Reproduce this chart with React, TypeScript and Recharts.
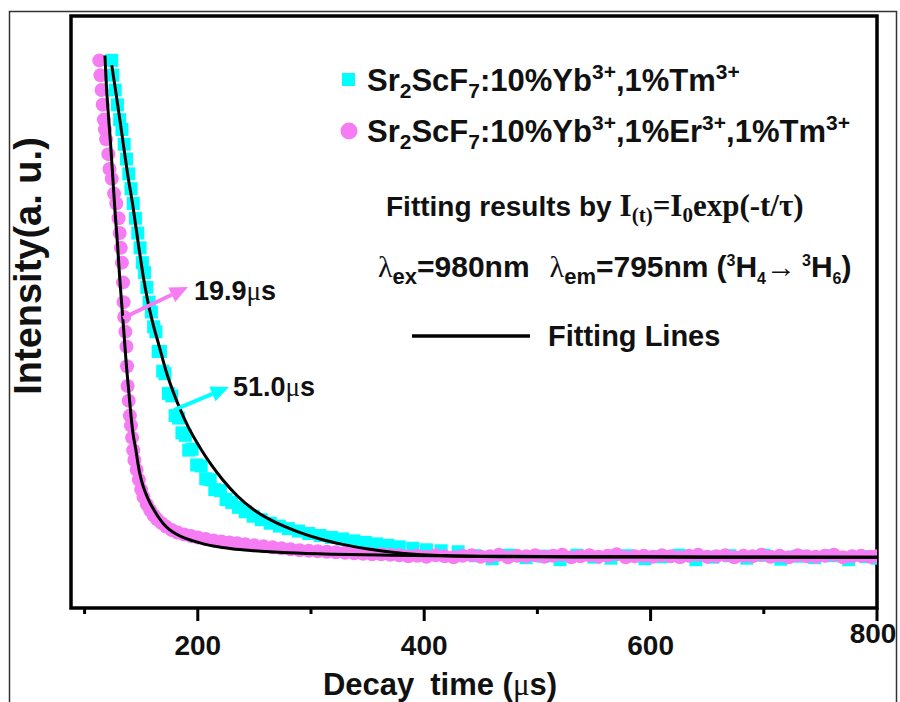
import { ComposedChart, Scatter, XAxis, YAxis, ReferenceArea } from "recharts";

// Sr2ScF7:10%Yb,1%Er,1%Tm (pink circles)
const erTime = [
  113, 114, 115, 116, 117, 118, 119, 121, 122, 124, 126, 128, 130, 131, 132, 133, 134, 134.5, 135, 136,
  137, 137.5, 138, 139, 140, 141, 142, 143, 144, 146, 148, 150, 152, 155, 158, 161, 164, 168, 172, 177,
  182, 188, 194, 200, 207, 214, 221, 228, 235, 242, 250,
  258, 266, 274, 282, 290, 298, 306, 314, 322, 330, 338, 346, 354, 362, 370,
  378, 386, 394, 402, 410, 418, 426, 434, 442, 450, 458, 466, 474, 482, 490, 498, 506, 514, 522, 530,
  538, 546, 554, 562, 570, 578, 586, 594, 602, 610, 618, 626, 634, 642, 650, 658, 666, 674, 682, 690,
  698, 706, 714, 722, 730, 738, 746, 754, 762, 770, 778, 786, 794, 800,
];
const erIntensity = [
  1.01, 0.98, 0.95, 0.92, 0.89, 0.87, 0.85, 0.82, 0.79, 0.77, 0.74, 0.72, 0.69, 0.66, 0.63, 0.6, 0.56, 0.52, 0.49, 0.46,
  0.43, 0.39, 0.35, 0.32, 0.29, 0.27, 0.245, 0.22, 0.2, 0.18, 0.16, 0.14, 0.125, 0.11, 0.098, 0.088, 0.08, 0.072, 0.065, 0.058,
  0.053, 0.049, 0.046, 0.043, 0.04, 0.037, 0.035, 0.033, 0.031, 0.029, 0.027,
  0.025, 0.023, 0.021, 0.019, 0.017, 0.016, 0.015, 0.014, 0.013, 0.012, 0.011, 0.01, 0.009, 0.009, 0.008,
  0.007, 0.005, 0.006, 0.004, 0.007, 0.005, 0.003, 0.006, 0.007, 0.004, 0.005, 0.008, 0.003, 0.006, 0.005, 0.007, 0.004, 0.006, 0.008, 0.003,
  0.005, 0.007, 0.004, 0.006, 0.009, 0.003, 0.005, 0.006, 0.004, 0.007, 0.005, 0.003, 0.006, 0.008, 0.004, 0.005, 0.007, 0.003, 0.006, 0.005,
  0.008, 0.004, 0.006, 0.003, 0.007, 0.005, 0.004, 0.006, 0.008, 0.003, 0.005, 0.006, 0.004, 0.005,
];

// Sr2ScF7:10%Yb,1%Tm (cyan squares)
const tmTime = [
  124, 125, 127, 129, 131, 133, 135, 137, 139, 141, 143, 145, 147, 149, 151, 153, 155, 157, 159, 161,
  163, 165, 167, 169, 171, 174, 177, 180, 183, 186, 189, 192, 195, 199, 203, 207, 211, 215, 220, 225,
  230, 236, 242, 249, 256, 264, 272, 280, 289, 298, 308, 318, 328, 338, 348, 358, 368, 378, 390, 402,
  415, 430,
  445, 460, 475, 490, 505, 520, 535, 550, 565, 580, 595, 610, 625, 640, 655, 670, 685, 700, 715, 730,
  745, 760, 775, 790, 800,
];
const tmIntensity = [
  1.01, 0.98, 0.95, 0.92, 0.89, 0.87, 0.84, 0.81, 0.78, 0.75, 0.72, 0.69, 0.66, 0.63, 0.6, 0.58, 0.55, 0.52, 0.5, 0.47,
  0.46, 0.42, 0.42, 0.38, 0.375, 0.335, 0.33, 0.29, 0.285, 0.255, 0.25, 0.22, 0.222, 0.19, 0.188, 0.162, 0.16, 0.14, 0.138, 0.12,
  0.114, 0.104, 0.095, 0.086, 0.079, 0.072, 0.066, 0.061, 0.056, 0.051, 0.047, 0.043, 0.04, 0.036, 0.033, 0.03, 0.027, 0.024, 0.021, 0.018,
  0.016, 0.014,
  0.006, 0.0, 0.007, 0.002, 0.005, -0.002, 0.007, 0.003, 0.001, 0.006, 0.0, 0.004, 0.007, -0.002, 0.003, 0.006, 0.001, 0.007, -0.001, 0.005,
  0.002, 0.006, -0.002, 0.004, 0.001,
];

// fitting lines
const erFitTime = [
  118, 119, 121, 123, 125, 127, 129, 131, 133, 135, 137, 139, 141, 143, 145, 147, 149, 152, 155, 158,
  161, 165, 170, 175, 181, 188, 196, 205, 215, 230, 250, 280, 320, 370, 450, 550, 650, 800,
];
const erFitIntensity = [
  1.02, 0.97, 0.9, 0.84, 0.77, 0.7, 0.64, 0.57, 0.51, 0.45, 0.39, 0.34, 0.29, 0.25, 0.225, 0.195, 0.17, 0.145, 0.127, 0.112,
  0.1, 0.085, 0.07, 0.059, 0.05, 0.042, 0.036, 0.03, 0.025, 0.02, 0.016, 0.012, 0.009, 0.007, 0.005, 0.004, 0.0035, 0.003,
];
const tmFitTime = [
  124, 128, 133, 138, 143, 148, 152, 156, 160, 166, 172, 178, 184, 192, 202, 212, 222, 235, 252, 270,
  288, 308, 328, 352, 380, 420, 480, 550, 650, 800,
];
const tmFitIntensity = [
  1.0, 0.94, 0.86, 0.78, 0.71, 0.63, 0.57, 0.52, 0.48, 0.43, 0.38, 0.34, 0.305, 0.265, 0.225, 0.19, 0.16, 0.127, 0.095, 0.072,
  0.055, 0.04, 0.029, 0.019, 0.011, 0.006, 0.004, 0.0035, 0.003, 0.003,
];

const xTicks = [100, 200, 300, 400, 500, 600, 700, 800];

const CYAN = "#00FFFF";
const PINK = "#F57CF2";
const SANS = "'Liberation Sans', Arial, sans-serif";
const SERIF = "'Liberation Serif', 'Times New Roman', serif";

const toPoints = (t: number[], v: number[]) => t.map((x, i) => ({ t: x, v: v[i] }));

const erData = toPoints(erTime, erIntensity);
const tmData = toPoints(tmTime, tmIntensity);
const erFit = toPoints(erFitTime, erFitIntensity);
const tmFit = toPoints(tmFitTime, tmFitIntensity);

const Square = (p: any) => (
  <rect x={p.cx - 6.5} y={p.cy - 6.5} width={13} height={13} fill={CYAN} />
);
const Dot = (p: any) => <circle cx={p.cx} cy={p.cy} r={7} fill={PINK} />;
const NoDot = () => <g />;

const XTick = ({ x, y, payload }: any) => {
  const v = payload.value;
  const major = v % 200 === 0;
  return (
    <g>
      <line x1={x} x2={x} y1={y} y2={y + (major ? 13 : 6)} stroke="#000" strokeWidth={3} />
      {major && (
        <text
          x={v === 800 ? x - 4 : x}
          y={v === 800 ? y + 35 : y + 47}
          textAnchor="middle"
          fontFamily={SANS}
          fontWeight="bold"
          fontSize={28}
          fill="#111"
        >
          {v}
        </text>
      )}
    </g>
  );
};

function Arrow({ x1, y1, x2, y2, color }: any) {
  const dx = x2 - x1;
  const dy = y2 - y1;
  const len = Math.hypot(dx, dy);
  const ux = dx / len;
  const uy = dy / len;
  const bx = x2 - ux * 18;
  const by = y2 - uy * 18;
  const px = -uy * 8;
  const py = ux * 8;
  return (
    <g>
      <line x1={x1} y1={y1} x2={bx} y2={by} stroke={color} strokeWidth={4} />
      <polygon points={`${x2},${y2} ${bx + px},${by + py} ${bx - px},${by - py}`} fill={color} />
    </g>
  );
}

function Overlay() {
  return (
    <svg
      width={900}
      height={702}
      style={{ position: "absolute", left: 0, top: 0, pointerEvents: "none" }}
    >
      <rect x={9.5} y={11.5} width={887} height={700} fill="none" stroke="#333" strokeWidth={1.5} />

      <g fontFamily={SANS} fontWeight="bold" fill="#111">
        {/* legend */}
        <rect x={342} y={73} width={13} height={13} fill={CYAN} />
        <circle cx={349} cy={131} r={8.5} fill={PINK} />
        <text x={367} y={91} fontSize={31}>
          Sr<tspan dy={7} fontSize={21}>2</tspan>
          <tspan dy={-7}>ScF</tspan>
          <tspan dy={7} fontSize={21}>7</tspan>
          <tspan dy={-7}>:10%Yb</tspan>
          <tspan dy={-12} fontSize={21}>3+</tspan>
          <tspan dy={12}>,1%Tm</tspan>
          <tspan dy={-12} fontSize={21}>3+</tspan>
        </text>
        <text x={367} y={142} fontSize={31}>
          Sr<tspan dy={7} fontSize={21}>2</tspan>
          <tspan dy={-7}>ScF</tspan>
          <tspan dy={7} fontSize={21}>7</tspan>
          <tspan dy={-7}>:10%Yb</tspan>
          <tspan dy={-12} fontSize={21}>3+</tspan>
          <tspan dy={12}>,1%Er</tspan>
          <tspan dy={-12} fontSize={21}>3+</tspan>
          <tspan dy={12}>,1%Tm</tspan>
          <tspan dy={-12} fontSize={21}>3+</tspan>
        </text>

        <text x={386} y={216} fontSize={28}>
          Fitting results by
          <tspan dx={8} fontFamily={SERIF} fontSize={31}>I</tspan>
          <tspan fontFamily={SERIF} fontSize={21} dy={6}>(t)</tspan>
          <tspan fontFamily={SERIF} fontSize={31} dy={-6}>=I</tspan>
          <tspan fontFamily={SERIF} fontSize={21} dy={6}>0</tspan>
          <tspan fontFamily={SERIF} fontSize={31} dy={-6}>exp(-t/τ)</tspan>
        </text>

        <text x={378} y={277} fontSize={30}>
          <tspan fontFamily={SERIF} fontWeight="normal">λ</tspan>
          <tspan dy={7} fontSize={22}>ex</tspan>
          <tspan dy={-7}>=980nm</tspan>
          <tspan dx={20} fontFamily={SERIF} fontWeight="normal">λ</tspan>
          <tspan dy={7} fontSize={22}>em</tspan>
          <tspan dy={-7}>=795nm</tspan>
          <tspan dx={8}>(</tspan>
          <tspan dy={-11} fontSize={16}>3</tspan>
          <tspan dy={11}>H</tspan>
          <tspan dy={7} fontSize={16}>4</tspan>
          <tspan dy={-7} fontFamily={SERIF} fontWeight="normal">→</tspan>
          <tspan dx={6} dy={-11} fontSize={16}>3</tspan>
          <tspan dy={11}>H</tspan>
          <tspan dy={7} fontSize={16}>6</tspan>
          <tspan dy={-7}>)</tspan>
        </text>

        <line x1={412} x2={530} y1={336} y2={336} stroke="#000" strokeWidth={3.5} />
        <text x={548} y={346} fontSize={29}>Fitting Lines</text>

        {/* lifetimes */}
        <Arrow x1={123} y1={318} x2={188} y2={287} color={PINK} />
        <text x={194} y={300} fontSize={27}>
          19.9<tspan fontFamily={SERIF} fontWeight="normal">μ</tspan>s
        </text>
        <Arrow x1={174} y1={410} x2={229} y2={387} color={CYAN} />
        <text x={233} y={396} fontSize={27}>
          51.0<tspan fontFamily={SERIF} fontWeight="normal">μ</tspan>s
        </text>

        {/* axis titles */}
        <text x={440} y={695} fontSize={31} textAnchor="middle">
          Decay
          <tspan dx={16}>time (</tspan>
          <tspan fontFamily={SERIF} fontWeight="normal">μ</tspan>
          s)
        </text>
        <text transform="translate(41,266) rotate(-90)" fontSize={38} textAnchor="middle">
          Intensity(a. u.)
        </text>
      </g>
    </svg>
  );
}

export default function App() {
  return (
    <div
      style={{
        position: "fixed",
        left: 0,
        top: 0,
        width: 900,
        height: 702,
        overflow: "hidden",
        background: "#fff",
      }}
    >
      <div style={{ position: "absolute", left: 0, top: 0 }}>
        <ComposedChart
          width={900}
          height={702}
          margin={{ top: 16, right: 23, bottom: 0, left: 71 }}
        >
          <XAxis
            dataKey="t"
            type="number"
            domain={[88, 800]}
            ticks={xTicks}
            allowDataOverflow
            axisLine={false}
            tickLine={false}
            tickSize={0}
            tickMargin={0}
            height={94}
            tick={<XTick />}
            interval={0}
          />
          <YAxis dataKey="v" type="number" domain={[-0.1, 1.1]} hide allowDataOverflow />
          <Scatter data={tmData} dataKey="v" shape={Square} isAnimationActive={false} />
          <Scatter data={erData} dataKey="v" shape={Dot} isAnimationActive={false} />
          <Scatter
            data={tmFit}
            dataKey="v"
            shape={NoDot}
            line={{ stroke: "#000", strokeWidth: 3 }}
            lineJointType="monotoneX"
            isAnimationActive={false}
          />
          <Scatter
            data={erFit}
            dataKey="v"
            shape={NoDot}
            line={{ stroke: "#000", strokeWidth: 3 }}
            lineJointType="monotoneX"
            isAnimationActive={false}
          />
          <ReferenceArea
            x1={88}
            x2={800}
            y1={-0.1}
            y2={1.1}
            fill="none"
            stroke="#000"
            strokeWidth={3.5}
            ifOverflow="visible"
          />
        </ComposedChart>
      </div>
      <Overlay />
    </div>
  );
}
